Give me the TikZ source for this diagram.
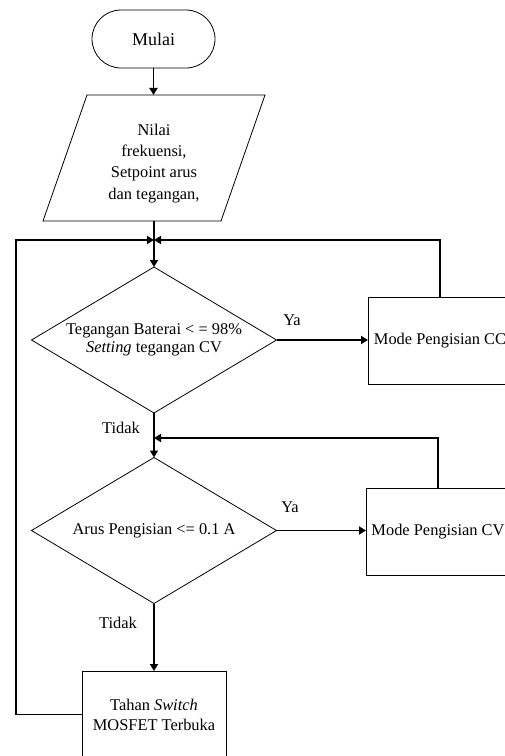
\documentclass[tikz,border=0pt]{standalone}
\usepackage{fontspec}
\setmainfont{Liberation Serif}
\usetikzlibrary{shapes.geometric,shapes.misc,arrows.meta}
\begin{document}
\begin{tikzpicture}[x=1pt,y=-1pt,
  font=\fontsize{16.4}{20}\selectfont,
  shp/.style={draw, line width=0.8pt, outer sep=0pt, inner sep=0pt, align=center},
  term/.style={shp, rounded rectangle, minimum width=123pt, minimum height=58pt},
  iobox/.style={shp, trapezium, trapezium left angle=63.8, trapezium right angle=116.2, trapezium stretches body, minimum width=222pt, minimum height=126pt},
  dec/.style={shp, diamond, aspect=1.68, minimum width=245pt, minimum height=146pt},
  proc/.style={shp, rectangle, minimum width=144pt, minimum height=87pt},
  conn/.style={line width=1.8pt},
  arr/.style={conn, -{Triangle[length=7pt,width=8pt]}}
]
\useasboundingbox (0,0) rectangle (505,756);
\clip (0,0) rectangle (505,756);

\node[term, font=\fontsize{18}{22}\selectfont] (start) at (153.5,39) {Mulai};
\node[iobox, font=\fontsize{16.4}{21.3}\selectfont] (inp) at (154,158) {\rule{0pt}{22pt}Nilai\\frekuensi,\\Setpoint arus\\dan tegangan,};
\coordinate (j1) at (154,240);
\coordinate (lx) at (16,240);
\node[dec, font=\fontsize{16.4}{18.5}\selectfont] (d1) at (154,340) {Tegangan Baterai < = 98\%\\\textit{Setting} tegangan CV};
\node[proc] (cc) at (440,340.5) {Mode Pengisian CC};
\coordinate (j2) at (154,438);
\node[dec] (d2) at (154,530.5) {Arus Pengisian <= 0.1 A};
\node[proc] (cv) at (438,531.5) {Mode Pengisian CV};
\node[proc] (mos) at (154,714.5) {Tahan \textit{Switch}\\MOSFET Terbuka};

\node (ya1) at (292,320) {Ya};
\node (t1) at (121,428) {Tidak};
\node (ya2) at (290,507) {Ya};
\node (t2) at (118,623) {Tidak};

\draw[arr] (start.south) -- (start.south |- inp.north);
\draw[conn] (inp.south) -- (j1);
\draw[arr] (mos.west) -| (lx) -- (j1);
\draw[arr] (cc.north) |- (j1);
\draw[arr] (j1) -- (d1.north);
\draw[arr] (d1.east) -- (d1.east -| cc.west);
\draw[conn] (d1.south) -- (j2);
\draw[arr] (j2) -- (d2.north);
\draw[arr] (cv.north) |- (j2);
\draw[arr] (d2.east) -- (d2.east -| cv.west);
\draw[arr] (d2.south) -- (mos.north);
\end{tikzpicture}
\end{document}
